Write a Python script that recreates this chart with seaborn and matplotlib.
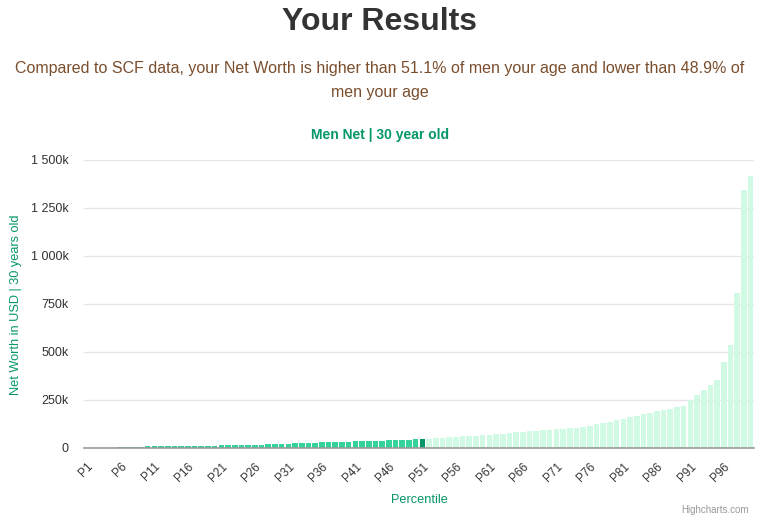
import matplotlib
matplotlib.use("Agg")
import matplotlib.pyplot as plt
import matplotlib.ticker as mticker
import seaborn as sns
import pandas as pd
import numpy as np

# ---- data (net worth in thousands USD) ----
percentiles = [f"P{i}" for i in range(1, 101)]
net_worth_k = [
    0, 0, 0, 0, 0,
    6, 6, 7, 7, 8, 8, 9, 9,
    10, 10, 11, 11, 12, 12, 13,
    15, 15, 16, 16, 17, 17, 18,
    20, 21, 21, 22,
    25, 25, 26, 27,
    29, 30, 30, 31, 32,
    34, 35, 35, 36,
    39, 40, 40, 41, 42,
    45, 46,
    49, 50, 54, 55, 59, 60, 64, 65, 69, 70, 74, 75, 80, 81,
    85, 89, 90, 94, 95, 99, 100, 105, 106, 111, 116,
    127, 132, 137, 146, 153, 161, 168, 179, 184, 194, 200, 205, 214, 220,
    250, 276, 301, 327, 353, 450, 535, 805, 1346, 1416,
]
user_percentile = "P51"
y_ticks = [0, 250000, 500000, 750000, 1000000, 1250000, 1500000]
x_label_every = 5

title = "Your Results"
subtitle_1 = "Compared to SCF data, your Net Worth is higher than 51.1% of men your age and lower than 48.9% of"
subtitle_2 = "men your age"
chart_title = "Men Net | 30 year old"
y_label = "Net Worth in USD | 30 years old"
x_label = "Percentile"
credit = "Highcharts.com"

# ---- styling ----
C_BELOW = "#34D399"
C_USER = "#059669"
C_ABOVE = "#D1FAE5"
C_GREEN_TXT = "#059669"
C_BROWN = "#7A4E2D"

sns.set_theme(style="white")
plt.rcParams["font.family"] = ["Liberation Sans", "DejaVu Sans"]

user_idx = percentiles.index(user_percentile)
groups = ["below" if i < user_idx else ("user" if i == user_idx else "above")
          for i in range(len(percentiles))]
df = pd.DataFrame({"pct": percentiles,
                   "value": np.array(net_worth_k) * 1000,
                   "group": groups})

W, H = 760, 519
fig = plt.figure(figsize=(W / 100, H / 100), dpi=100)
left, right, top, bottom = 84, 754, 160, 448
ax = fig.add_axes([left / W, 1 - bottom / H, (right - left) / W, (bottom - top) / H])

sns.barplot(data=df, x="pct", y="value", hue="group", order=percentiles,
            palette={"below": C_BELOW, "user": C_USER, "above": C_ABOVE},
            dodge=False, width=0.85, legend=False, saturation=1,
            linewidth=0, edgecolor="none", ax=ax)

ax.set_xlim(-0.5, len(percentiles) - 0.5)
ax.set_ylim(0, y_ticks[-1])
ax.set_yticks(y_ticks)


def fmt(v, pos):
    if v == 0:
        return "0"
    return f"{v/1000:,.0f}k".replace(",", " ")


ax.yaxis.set_major_formatter(mticker.FuncFormatter(fmt))
ax.grid(axis="y", color="#e6e6e6", linewidth=1)
ax.set_axisbelow(True)
for s in ["top", "right", "left"]:
    ax.spines[s].set_visible(False)
ax.spines["bottom"].set_color("#999999")
ax.spines["bottom"].set_linewidth(1.2)
ax.spines["bottom"].set_zorder(5)

ax.tick_params(axis="y", length=0, labelsize=9, labelcolor="#333333", pad=10.8)
xt = list(range(0, len(percentiles), x_label_every))
ax.set_xticks(xt)
ax.set_xticklabels([percentiles[i] for i in xt], rotation=45, ha="right",
                   rotation_mode="anchor", fontsize=8.5, color="#333333")
ax.tick_params(axis="x", length=0, pad=9)
ax.set_xticks(np.arange(-0.5, len(percentiles), 1), minor=True)
ax.tick_params(axis="x", which="minor", length=2, color="#777777", width=0.8)

ax.set_xlabel("")
ax.set_ylabel("")

fig.text(380 / W, 1 - 22 / H, title, ha="center", va="center",
         fontsize=23, fontweight="bold", color="#333333")
fig.text(380 / W, 1 - 68 / H, subtitle_1, ha="center", va="center",
         fontsize=11.55, color=C_BROWN)
fig.text(380 / W, 1 - 92 / H, subtitle_2, ha="center", va="center",
         fontsize=11.55, color=C_BROWN)
fig.text(380 / W, 1 - 135 / H, chart_title, ha="center", va="center",
         fontsize=10, fontweight="bold", color=C_GREEN_TXT)
fig.text(16 / W, 1 - 305 / H, y_label, ha="center", va="center", rotation=90,
         fontsize=9.2, color=C_GREEN_TXT)
fig.text(419 / W, 1 - 500 / H, x_label, ha="center", va="center",
         fontsize=9.2, color=C_GREEN_TXT)
fig.text(749 / W, 1 - 510 / H, credit, ha="right", va="center",
         fontsize=7, color="#999999")

fig.savefig("out.png", dpi=100)
